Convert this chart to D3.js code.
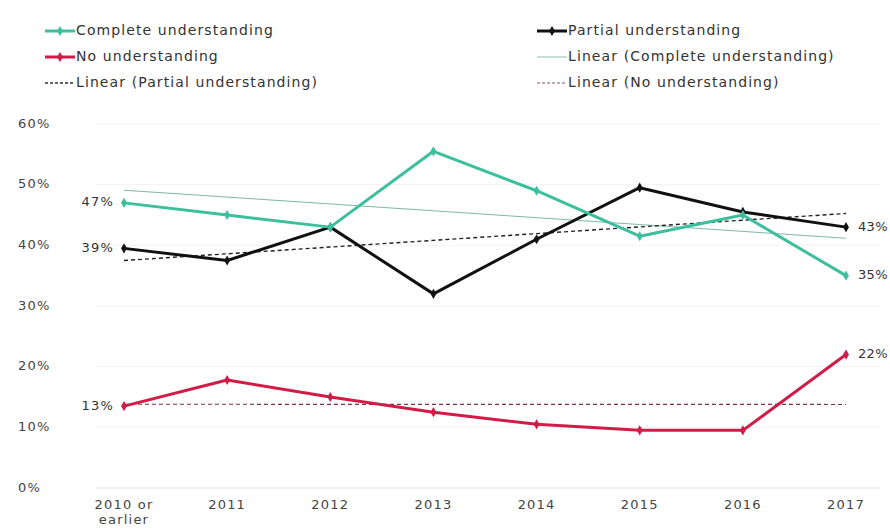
<!DOCTYPE html>
<html>
<head>
<meta charset="utf-8">
<script src="https://cdn.jsdelivr.net/npm/d3@7"></script>
<style>
  body { margin: 0; background: #fff; }
  svg { display: block; font-family: "DejaVu Sans", sans-serif; }
  .tick-label { fill: #444; font-size: 13px; letter-spacing: 1.2px; }
  .legend-text { fill: #333; font-size: 14px; letter-spacing: 1.1px; }
  .end-label { fill: #333; font-size: 13px; letter-spacing: 1.2px; }
  .end-label.right { letter-spacing: 0.3px; }
</style>
</head>
<body>
<div id="chart"></div>
<script>
// categories and series
const years = ["2010 or earlier", "2011", "2012", "2013", "2014", "2015", "2016", "2017"];
const complete = [0.47, 0.45, 0.43, 0.555, 0.49, 0.415, 0.45, 0.35];
const partial = [0.395, 0.375, 0.43, 0.32, 0.41, 0.495, 0.455, 0.43];
const none = [0.135, 0.178, 0.15, 0.125, 0.105, 0.095, 0.095, 0.22];
const yTicks = [0, 0.1, 0.2, 0.3, 0.4, 0.5, 0.6];

const W = 890, H = 532;
const TEAL = "#3dbf9d", BLACK = "#111", RED = "#d11c48";

const svg = d3.select("#chart").append("svg")
  .attr("width", W).attr("height", H);

const x = d3.scalePoint().domain(years).range([124, 846]);
const y = d3.scaleLinear().domain([0, 0.6]).range([488, 124]);

// faint gridlines
svg.append("g").selectAll("line").data(yTicks).enter().append("line")
  .attr("x1", 95).attr("x2", 880)
  .attr("y1", d => y(d)).attr("y2", d => y(d))
  .attr("stroke", d => d === 0 ? "#ddd" : "#f2f2f2")
  .attr("stroke-width", 1);

// y tick labels
svg.append("g").selectAll("text").data(yTicks).enter().append("text")
  .attr("class", "tick-label")
  .attr("x", 18).attr("y", d => y(d))
  .attr("dominant-baseline", "middle")
  .text(d => Math.round(d * 100) + "%");

// x tick labels (first one wraps to two lines)
const xt = svg.append("g").selectAll("text").data(years).enter().append("text")
  .attr("class", "tick-label")
  .attr("x", d => x(d)).attr("y", 509)
  .attr("text-anchor", "middle");
xt.each(function (d) {
  const t = d3.select(this);
  if (d === years[0]) {
    t.append("tspan").attr("x", x(d)).text("2010 or");
    t.append("tspan").attr("x", x(d)).attr("dy", "1.15em").text("earlier");
  } else {
    t.text(d);
  }
});

// least-squares linear trend, like the spreadsheet "Linear" trendline
function trend(vals) {
  const n = vals.length;
  const mx = (n - 1) / 2, my = d3.mean(vals);
  let sxy = 0, sxx = 0;
  vals.forEach((v, i) => { sxy += (i - mx) * (v - my); sxx += (i - mx) ** 2; });
  const b = sxy / sxx;
  return vals.map((_, i) => my + b * (i - mx));
}

const line = d3.line().x((d, i) => x(years[i])).y(d => y(d));

// trendlines
svg.append("path").datum(trend(complete)).attr("d", line)
  .attr("fill", "none").attr("stroke", "#7fb8a8").attr("stroke-width", 1);
svg.append("path").datum(trend(partial)).attr("d", line)
  .attr("fill", "none").attr("stroke", "#222").attr("stroke-width", 1.4)
  .attr("stroke-dasharray", "4,3");
svg.append("path").datum(trend(none)).attr("d", line)
  .attr("fill", "none").attr("stroke", "#7a3045").attr("stroke-width", 1.2)
  .attr("stroke-dasharray", "4,3");

// data series
const series = [
  { vals: none, color: RED },
  { vals: partial, color: BLACK },
  { vals: complete, color: TEAL },
];
const diamond = d3.symbol().type(d3.symbolDiamond).size(30);
series.forEach(s => {
  svg.append("path").datum(s.vals).attr("d", line)
    .attr("fill", "none").attr("stroke", s.color).attr("stroke-width", 3)
    .attr("stroke-linejoin", "round");
  svg.append("g").selectAll("path").data(s.vals).enter().append("path")
    .attr("d", diamond)
    .attr("transform", (d, i) => `translate(${x(years[i])},${y(d)})`)
    .attr("fill", s.color);
});

// end labels
const fmt = v => Math.floor(v * 100 + 0.0001) + "%";
[complete, partial, none].forEach(vals => {
  svg.append("text").attr("class", "end-label")
    .attr("x", x(years[0]) - 10).attr("y", y(vals[0]))
    .attr("text-anchor", "end").attr("dominant-baseline", "middle")
    .text(fmt(vals[0]));
  svg.append("text").attr("class", "end-label right")
    .attr("x", x(years[years.length - 1]) + 12).attr("y", y(vals[vals.length - 1]))
    .attr("dominant-baseline", "middle")
    .text(fmt(vals[vals.length - 1]));
});

// legend
const legend = [
  { label: "Complete understanding", color: TEAL, w: 3, dash: null, mark: true, col: 0, row: 0 },
  { label: "Partial understanding", color: BLACK, w: 3, dash: null, mark: true, col: 1, row: 0 },
  { label: "No understanding", color: RED, w: 3, dash: null, mark: true, col: 0, row: 1 },
  { label: "Linear (Complete understanding)", color: "#8fbfb2", w: 1, dash: null, mark: false, col: 1, row: 1 },
  { label: "Linear (Partial understanding)", color: "#333", w: 1.4, dash: "3,2", mark: false, col: 0, row: 2 },
  { label: "Linear (No understanding)", color: "#8a5060", w: 1.2, dash: "3,2", mark: false, col: 1, row: 2 },
];
const colX = [45, 537];
const rowY = [31, 57, 83];
legend.forEach(l => {
  const g = svg.append("g")
    .attr("transform", `translate(${colX[l.col]},${rowY[l.row]})`);
  g.append("line").attr("x1", 0).attr("x2", 30).attr("y1", 0).attr("y2", 0)
    .attr("stroke", l.color).attr("stroke-width", l.w)
    .attr("stroke-dasharray", l.dash);
  if (l.mark) g.append("path").attr("d", diamond).attr("transform", "translate(15,0)").attr("fill", l.color);
  g.append("text").attr("class", "legend-text")
    .attr("x", 31).attr("dominant-baseline", "middle").text(l.label);
});
</script>
</body>
</html>
